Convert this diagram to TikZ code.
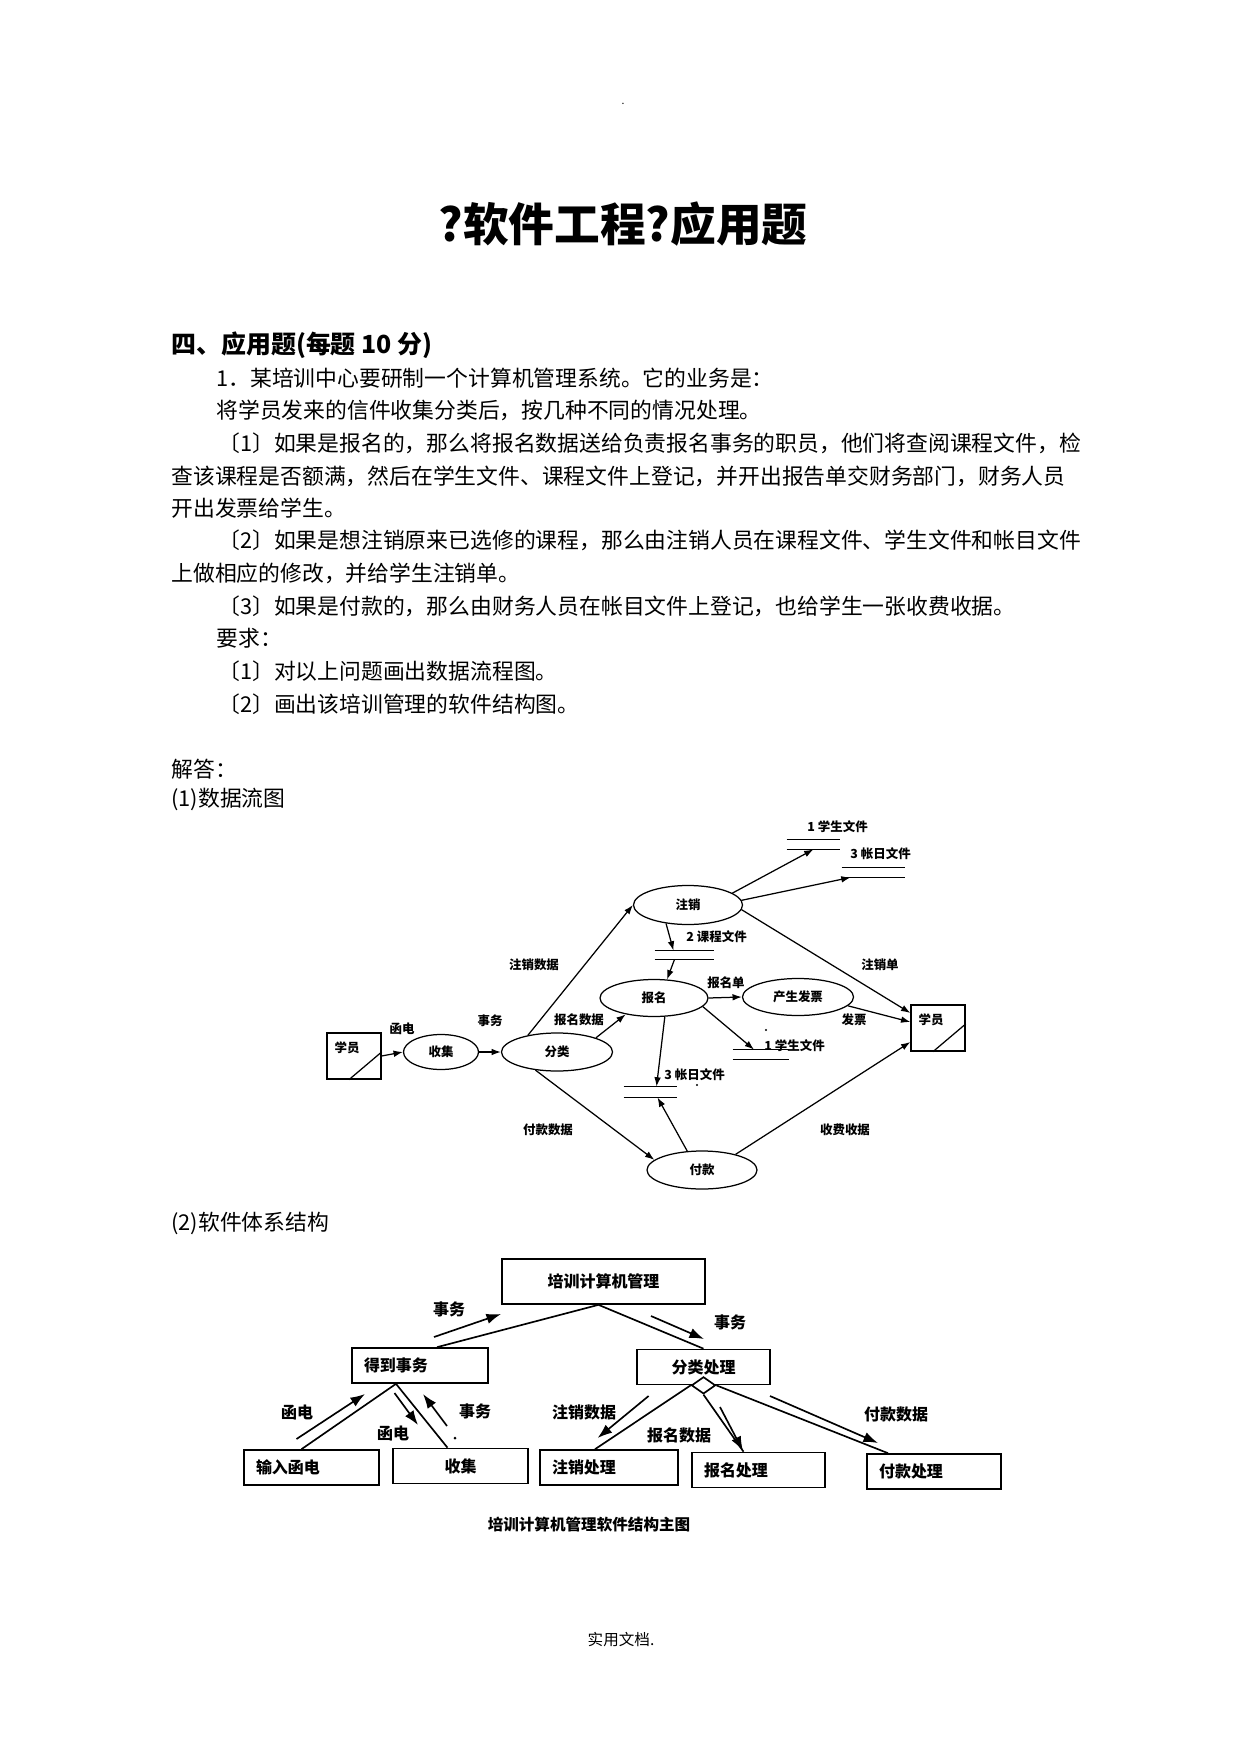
\documentclass[tikz,border=0pt]{standalone}
\usepackage{fontspec}
\setmainfont{Noto Sans CJK SC}
\usepackage{tikz}
\usetikzlibrary{arrows.meta, shapes.geometric, positioning, calc}

\newdimen\pu
\pu=0.48147pt

\begin{document}
\begin{tikzpicture}[
    x=0.48147pt, y=-0.48147pt,
    every node/.style={inner sep=0pt},
    bodyline/.style={anchor=west, font=\fontsize{10.5pt}{12pt}\selectfont},
    proc/.style={
        ellipse,
        draw=black,
        line width=0.6pt,
        font=\bfseries\fontsize{6pt}{7pt}\selectfont
    },
    ext/.style={
        rectangle,
        draw=black,
        line width=0.6pt,
        minimum width=54\pu,
        minimum height=46\pu
    },
    store/.style={
        minimum height=9\pu,
        append after command={
            (\tikzlastnode.north west) edge[line width=0.6pt] (\tikzlastnode.north east)
            (\tikzlastnode.south west) edge[line width=0.6pt] (\tikzlastnode.south east)}
    },
    lbl/.style={font=\bfseries\fontsize{6pt}{7pt}\selectfont},
    arrow/.style={line width=0.6pt, -{Latex[length=4.5pt, width=3.2pt]}},
    modbox/.style={
        rectangle,
        draw=black,
        line width=0.8pt,
        minimum height=35\pu,
        inner xsep=12\pu,
        align=left,
        font=\bfseries\fontsize{7.7pt}{9pt}\selectfont
    },
    link/.style={line width=0.8pt},
    flow/.style={line width=0.8pt, -{Latex[length=7pt, width=5pt]}},
    slbl/.style={font=\bfseries\fontsize{7.7pt}{9pt}\selectfont}
]
\useasboundingbox[fill=white] (0,0) rectangle (1241,1754);

% page text
\node (dot) at (623,104) {\fontsize{5pt}{6pt}\selectfont .};
\node (title) at (623,224) {\bfseries\fontsize{22pt}{26pt}\selectfont ?软件工程?应用题};
\node (sec) [anchor=west] at (171,345) {\bfseries\fontsize{12pt}{14pt}\selectfont 四、应用题(每题 10 分)};

\node (l1)  [bodyline] at (216,378) {1．某培训中心要研制一个计算机管理系统。它的业务是：};
\node (l2)  [bodyline] at (216,410) {将学员发来的信件收集分类后，按几种不同的情况处理。};
\node (l3)  [bodyline] at (218,443) {〔1〕如果是报名的，那么将报名数据送给负责报名事务的职员，他们将查阅课程文件，检};
\node (l4)  [bodyline] at (171,476) {查该课程是否额满，然后在学生文件、课程文件上登记，并开出报告单交财务部门，财务人员};
\node (l5)  [bodyline] at (171,508) {开出发票给学生。};
\node (l6)  [bodyline] at (218,540) {〔2〕如果是想注销原来已选修的课程，那么由注销人员在课程文件、学生文件和帐目文件};
\node (l7)  [bodyline] at (171,573) {上做相应的修改，并给学生注销单。};
\node (l8)  [bodyline] at (218,606) {〔3〕如果是付款的，那么由财务人员在帐目文件上登记，也给学生一张收费收据。};
\node (l9)  [bodyline] at (216,638) {要求：};
\node (l10) [bodyline] at (218,671) {〔1〕对以上问题画出数据流程图。};
\node (l11) [bodyline] at (218,704) {〔2〕画出该培训管理的软件结构图。};

\node (ans)  [bodyline] at (171,769) {解答：};
\node (ans1) [bodyline] at (171,799) {(1)数据流图};
\node (ans2) [bodyline] at (171,1223) {(2)软件体系结构};

\node (foot) at (621,1640) {\fontsize{7.5pt}{9pt}\selectfont 实用文档.};

% data flow diagram
\node (xyL) [ext, label={[lbl, shift={(-7,-8)}]center:学员}] at (354,1056) {};
\node (xyR) [ext, label={[lbl, shift={(-7,-8)}]center:学员}] at (938,1028) {};
\draw [line width=0.6pt] ([xshift=-5\pu]xyL.south) -- ([yshift=4\pu]xyL.east);
\draw [line width=0.6pt] ([xshift=-5\pu]xyR.south) -- ([yshift=4\pu]xyR.east);

\node (shouji)  [proc, minimum width=75\pu,  minimum height=35\pu] at (441,1052) {收集};
\node (fenlei)  [proc, minimum width=111\pu, minimum height=38\pu] at (557,1052) {分类};
\node (zhuxiao) [proc, minimum width=109\pu, minimum height=39\pu] at (688,905)  {注销};
\node (baoming) [proc, minimum width=108\pu, minimum height=37\pu] at (654,998)  {报名};
\node (fapiao)  [proc, minimum width=111\pu, minimum height=37\pu] at (798,997)  {产生发票};
\node (fukuan)  [proc, minimum width=110\pu, minimum height=38\pu] at (702,1170) {付款};

\node (dsXs1) [store, minimum width=53\pu] at (813.5,844.5) {};
\node (dsZm1) [store, minimum width=63\pu] at (873.5,872.5) {};
\node (dsKc)  [store, minimum width=59\pu, minimum height=8\pu] at (684.5,955) {};
\node (dsXs2) [store, minimum width=56\pu] at (761,1054.5) {};
\node (dsZm2) [store, minimum width=53\pu, minimum height=10\pu] at (650.5,1092) {};

\node (tXs1) [lbl, anchor=west] at (807,827)  {1 学生文件};
\node (tZm1) [lbl, anchor=west] at (850,854)  {3 帐日文件};
\node (tKc)  [lbl, anchor=west] at (686,937)  {2 课程文件};
\node (tXs2) [lbl, anchor=west] at (764,1046) {1 学生文件};
\node (tZm2) [lbl, anchor=west] at (664,1075) {3 帐日文件};

\draw [arrow] (xyL.east) -- (shouji.west);
\draw [arrow] (shouji) -- (fenlei);
\draw [arrow] (fenlei.150) -- (zhuxiao.west);
\draw [arrow] (fenlei.20) -- (baoming.210);
\draw [arrow] (zhuxiao.15) -- (dsXs1.south);
\draw [arrow] (zhuxiao.5) -- ([xshift=9\pu]dsZm1.south west);
\draw [arrow] (zhuxiao.220) -- ([xshift=-11\pu]dsKc.north);
\draw [arrow, {Latex[length=4.5pt, width=3.2pt]}-] (baoming.55) -- ([xshift=-10\pu]dsKc.south);
\draw [arrow] (baoming.east) -- (fapiao.west);
\draw [arrow] (baoming.350) -- ([xshift=-7\pu]dsXs2.north);
\draw [arrow] (baoming.300) -- ([xshift=6\pu]dsZm2.north);
\draw [arrow] (fukuan.128) -- ([xshift=7\pu]dsZm2.south);
\draw [arrow] (fenlei.220) -- (fukuan.168);
\draw [arrow] (fukuan.25) -- ([yshift=-14\pu]xyR.west);
\draw [arrow] (fapiao.350) -- ([yshift=6\pu]xyR.west);
\draw [arrow] (zhuxiao.355) -- ([yshift=15\pu]xyR.west);

\node (fHd)  [lbl] at (402,1029) {函电};
\node (fSw)  [lbl] at (490,1021) {事务};
\node (fZxs) [lbl] at (534,965)  {注销数据};
\node (fBms) [lbl] at (579,1020) {报名数据};
\node (fBmd) [lbl] at (726,983)  {报名单};
\node (fZxd) [lbl] at (880,965)  {注销单};
\node (fFp)  [lbl] at (854,1020) {发票};
\node (fFks) [lbl] at (548,1130) {付款数据};
\node (fSf)  [lbl] at (845,1130) {收费收据};
\fill (766,1030) circle (1.2);
\fill (697,1085) circle (1.2);

% structure chart
\node (peixun)   [modbox, text width=179\pu, align=center, minimum height=45\pu] at (603.5,1281.5) {培训计算机管理};
\node (dedao)    [modbox, text width=112\pu] at (420,1365.5) {得到事务};
\node (fenleicl) [modbox, text width=109\pu, align=center] at (703.5,1367) {分类处理};
\node (shuru)    [modbox, text width=111\pu] at (311.5,1467.5) {输入函电};
\node (shoujim)  [modbox, text width=111\pu, align=center] at (460.5,1466) {收集};
\node (zxcl)     [modbox, text width=114\pu] at (609,1467.5) {注销处理};
\node (bmcl)     [modbox, text width=109\pu] at (758.5,1470) {报名处理};
\node (fkcl)     [modbox, text width=110\pu] at (934,1471.5) {付款处理};
\node (dmd) [diamond, draw=black, fill=white, line width=0.8pt, minimum width=24\pu, minimum height=17\pu] at (fenleicl.south) {};

\coordinate (hub) at ([xshift=-5\pu]peixun.south);
\coordinate (hub2) at ([xshift=-24\pu]dedao.south);
\draw [link] (hub) -- ([xshift=17\pu]dedao.north);
\draw [link] (hub) -- (fenleicl.north);
\draw [link] (hub2) -- ([xshift=-10\pu]shuru.north);
\draw [link] (hub2) -- ([xshift=-13\pu]shoujim.north);
\draw [link] (dmd.west) -- ([xshift=-14\pu]zxcl.north);
\draw [link] (dmd.south) -- ([xshift=-15\pu]bmcl.north);
\draw [link] (dmd.east) -- ([xshift=-46\pu]fkcl.north);

\coordinate (a1s) at (434,1337);   \coordinate (a1e) at (501,1314);
\coordinate (a2s) at (651,1316);   \coordinate (a2e) at (704,1339);
\coordinate (a3s) at (296.5,1439); \coordinate (a3e) at (365,1394);
\coordinate (a4s) at (394.5,1393); \coordinate (a4e) at (418,1425);
\coordinate (a5s) at (447,1426);   \coordinate (a5e) at (423,1394);
\coordinate (a6s) at (648.6,1396); \coordinate (a6e) at (597.6,1438);
\coordinate (a7s) at (720,1407);   \coordinate (a7e) at (743,1451);
\coordinate (a8s) at (770,1396);   \coordinate (a8e) at (878,1443);
\draw [flow] (a1s) -- (a1e);
\draw [flow] (a2s) -- (a2e);
\draw [flow] (a3s) -- (a3e);
\draw [flow] (a4s) -- (a4e);
\draw [flow] (a5s) -- (a5e);
\draw [flow] (a6s) -- (a6e);
\draw [flow] (a7s) -- (a7e);
\draw [flow] (a8s) -- (a8e);

\node (sSw1) [slbl] at (449,1309) {事务};
\node (sSw2) [slbl] at (730,1322) {事务};
\node (sHd1) [slbl] at (297,1412) {函电};
\node (sHd2) [slbl] at (393,1433) {函电};
\node (sSw3) [slbl] at (475,1411) {事务};
\node (sZx)  [slbl] at (584,1412) {注销数据};
\node (sBm)  [slbl] at (679,1435) {报名数据};
\node (sFk)  [slbl] at (896,1414) {付款数据};
\fill (455,1438) circle (1.5);

\node (cap) [slbl] at (589,1525) {\fontsize{7.5pt}{9pt}\selectfont 培训计算机管理软件结构主图};

\end{tikzpicture}
\end{document}
